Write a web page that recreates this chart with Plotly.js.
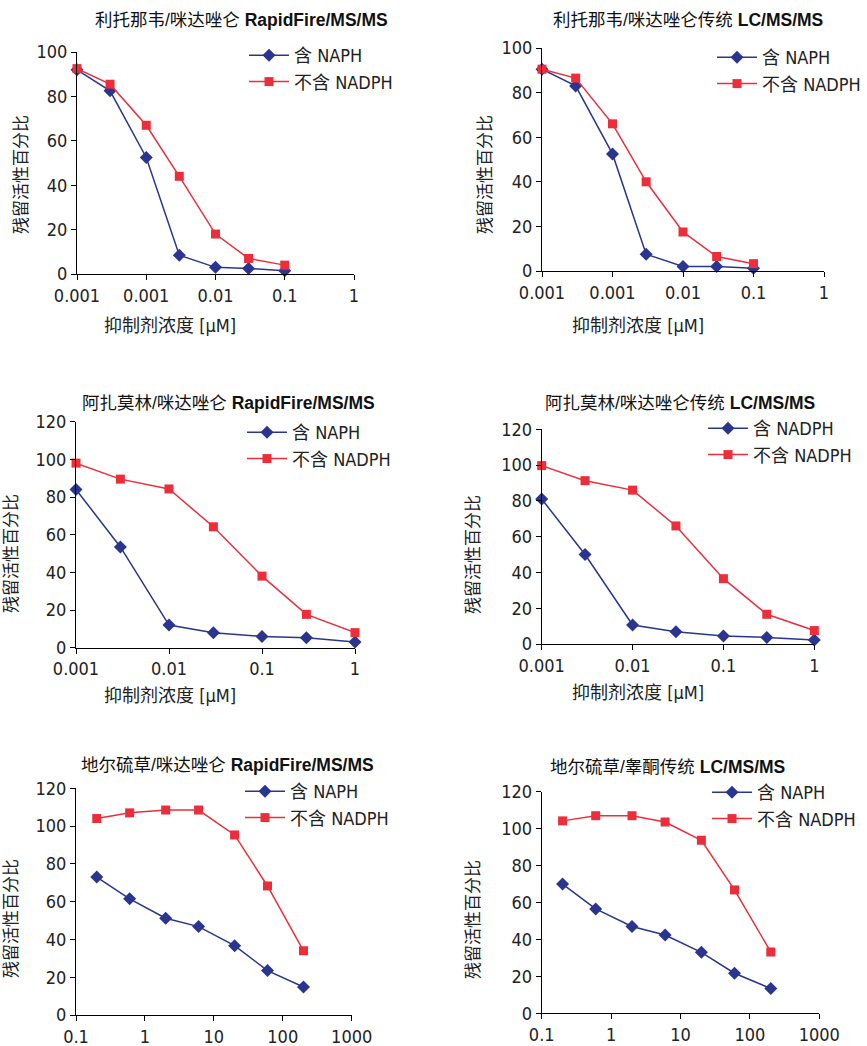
<!DOCTYPE html>
<html>
<head>
<meta charset="utf-8">
<script src="https://cdn.plot.ly/plotly-3.0.1.min.js"></script>
<style>html,body{margin:0;padding:0;background:#fff;}#chart{width:867px;height:1046px;}</style>
</head>
<body>
<div id="chart"></div>
<script>
// ---------- data ----------
const panelTitles = [
  '利托那韦/咪达唑仑 <b>RapidFire/MS/MS</b>',
  '利托那韦/咪达唑仑传统 <b>LC/MS/MS</b>',
  '阿扎莫林/咪达唑仑 <b>RapidFire/MS/MS</b>',
  '阿扎莫林/咪达唑仑传统 <b>LC/MS/MS</b>',
  '地尔硫草/咪达唑仑 <b>RapidFire/MS/MS</b>',
  '地尔硫草/睾酮传统 <b>LC/MS/MS</b>'
];
const yTitle = '残留活性百分比';
const xTitle = '抑制剂浓度 [μM]';
const withLabels = ['含 NAPH', '含 NAPH', '含 NAPH', '含 NADPH', '含 NAPH', '含 NAPH'];
const withoutLabel = '不含 NADPH';

// concentrations (µM)
const concRitonavir = [0.0001, 0.0003, 0.001, 0.003, 0.01, 0.03, 0.1];
const concAzamulin  = [0.001, 0.003, 0.01, 0.03, 0.1, 0.3, 1];
const concDiltiazem = [0.2, 0.6, 2, 6, 20, 60, 200];

// remaining activity (%)
const ritonavirRF_with    = [92, 82.5, 52.5, 8.5, 3, 2.5, 1.5];
const ritonavirRF_without = [92.5, 85.5, 67, 44, 18, 7, 4];
const ritonavirLC_with    = [90.5, 83, 52.5, 7.5, 2, 2, 1.2];
const ritonavirLC_without = [90.5, 86.5, 66, 40, 17.5, 6.5, 3.3];
const azamulinRF_with     = [84, 53.5, 12, 8, 6, 5.3, 3];
const azamulinRF_without  = [98, 89.5, 84.3, 64.2, 38, 17.7, 8];
const azamulinLC_with     = [81, 50, 10.6, 6.9, 4.5, 3.7, 2.2];
const azamulinLC_without  = [99.7, 91.3, 86, 66, 36.5, 16.6, 7.5];
const diltiazemRF_with    = [73, 61.5, 51.2, 46.8, 36.7, 23.5, 14.8];
const diltiazemRF_without = [104, 107, 108.5, 108.5, 95.3, 68.3, 34];
const diltiazemLC_with    = [70, 56.5, 47, 42.4, 33, 21.7, 13.4];
const diltiazemLC_without = [104.2, 107, 107, 103.6, 93.7, 66.8, 33.2];

// x tick labels
const tickValsRitonavir = [0.0001, 0.001, 0.01, 0.1, 1];
const tickTextRitonavir = ['0.001', '0.001', '0.01', '0.1', '1'];
const tickValsAzamulin  = [0.001, 0.01, 0.1, 1];
const tickTextAzamulin  = ['0.001', '0.01', '0.1', '1'];
const tickValsDiltiazem = [0.1, 1, 10, 100, 1000];
const tickTextDiltiazem = ['0.1', '1', '10', '100', '1000'];

// ---------- layout geometry (pixels) ----------
const W = 867, H = 1046;
const BLUE = '#2A3590', RED = '#EC2E3B';
const FONT = '"Liberation Sans Narrow", "DejaVu Sans Condensed", "Noto Sans CJK SC", sans-serif';
const TXT = '#222222';

const panels = [
  {x: concRitonavir, w: ritonavirRF_with, wo: ritonavirRF_without, tv: tickValsRitonavir, tt: tickTextRitonavir, xr: [-4, 0], ymax: 100,
   px: [77, 354], py: [52, 274], title: [241, 20], yt: [21, 175], xt: [170, 325], leg: [244, 37]},
  {x: concRitonavir, w: ritonavirLC_with, wo: ritonavirLC_without, tv: tickValsRitonavir, tt: tickTextRitonavir, xr: [-4, 0], ymax: 100,
   px: [542, 824], py: [48, 271], title: [688, 20], yt: [485, 175], xt: [638, 325], leg: [712, 39]},
  {x: concAzamulin, w: azamulinRF_with, wo: azamulinRF_without, tv: tickValsAzamulin, tt: tickTextAzamulin, xr: [-3, 0], ymax: 120,
   px: [76, 355], py: [421.7, 647.7], title: [229, 403], yt: [11, 554], xt: [170, 695], leg: [242, 414]},
  {x: concAzamulin, w: azamulinLC_with, wo: azamulinLC_without, tv: tickValsAzamulin, tt: tickTextAzamulin, xr: [-3, 0], ymax: 120,
   px: [541.7, 814.3], py: [429.3, 644], title: [680, 403], yt: [473, 555], xt: [638, 692], leg: [703, 410]},
  {x: concDiltiazem, w: diltiazemRF_with, wo: diltiazemRF_without, tv: tickValsDiltiazem, tt: tickTextDiltiazem, xr: [-1, 3], ymax: 120,
   px: [76, 351.7], py: [788.3, 1015], title: [228, 765], yt: [11, 919], xt: null, leg: [240, 773]},
  {x: concDiltiazem, w: diltiazemLC_with, wo: diltiazemLC_without, tv: tickValsDiltiazem, tt: tickTextDiltiazem, xr: [-1, 3], ymax: 120,
   px: [541.7, 819.3], py: [791.7, 1013.3], title: [667, 767], yt: [473, 920], xt: null, leg: [707, 774]}
];

const fx = p => p / W;
const fy = p => 1 - p / H;

const traces = [];
const layout = {
  width: W, height: H,
  margin: {l: 0, r: 0, t: 0, b: 0},
  paper_bgcolor: '#ffffff', plot_bgcolor: '#ffffff',
  font: {family: FONT, size: 18, color: TXT},
  showlegend: true,
  annotations: []
};

panels.forEach((p, i) => {
  const n = i + 1;
  const xa = 'xaxis' + (n === 1 ? '' : n), ya = 'yaxis' + (n === 1 ? '' : n);
  const xr = 'x' + (n === 1 ? '' : n), yr = 'y' + (n === 1 ? '' : n);
  const lg = 'legend' + (n === 1 ? '' : n);

  traces.push({
    x: p.x, y: p.w, xaxis: xr, yaxis: yr, type: 'scatter', mode: 'lines+markers',
    name: withLabels[i], legend: lg, cliponaxis: false,
    line: {color: BLUE, width: 1.5},
    marker: {symbol: 'diamond', size: 10, color: BLUE}
  });
  traces.push({
    x: p.x, y: p.wo, xaxis: xr, yaxis: yr, type: 'scatter', mode: 'lines+markers',
    name: withoutLabel, legend: lg, cliponaxis: false,
    line: {color: RED, width: 1.5},
    marker: {symbol: 'square', size: 9, color: RED}
  });

  layout[xa] = {
    type: 'log', range: p.xr, domain: [fx(p.px[0]), fx(p.px[1])], anchor: yr,
    tickmode: 'array', tickvals: p.tv, ticktext: p.tt,
    showgrid: false, zeroline: false, showline: true, linecolor: '#000', linewidth: 1,
    ticks: 'outside', ticklen: 5, tickcolor: '#000', tickfont: {size: 18, color: TXT, family: FONT}
  };
  layout[ya] = {
    range: [0, p.ymax], dtick: 20, domain: [fy(p.py[1]), fy(p.py[0])], anchor: xr,
    showgrid: false, zeroline: false, showline: true, linecolor: '#000', linewidth: 1,
    ticks: 'outside', ticklen: 5, tickcolor: '#000', tickfont: {size: 18, color: TXT, family: FONT}
  };
  layout[lg] = {
    x: fx(p.leg[0]), y: fy(p.leg[1]), xanchor: 'left', yanchor: 'top',
    bgcolor: 'rgba(0,0,0,0)', borderwidth: 0, font: {size: 18, color: TXT, family: FONT},
    tracegroupgap: 0, itemwidth: 40
  };

  layout.annotations.push({
    text: panelTitles[i], xref: 'paper', yref: 'paper', x: fx(p.title[0]), y: fy(p.title[1]),
    xanchor: 'center', yanchor: 'middle', showarrow: false,
    font: {size: 17.5, color: '#111', family: '"Liberation Sans", "Noto Sans CJK SC", sans-serif'}
  });
  layout.annotations.push({
    text: yTitle, xref: 'paper', yref: 'paper', x: fx(p.yt[0]), y: fy(p.yt[1]),
    xanchor: 'center', yanchor: 'middle', showarrow: false, textangle: -90,
    font: {size: 17, color: TXT, family: FONT}
  });
  if (p.xt) {
    layout.annotations.push({
      text: xTitle, xref: 'paper', yref: 'paper', x: fx(p.xt[0]), y: fy(p.xt[1]),
      xanchor: 'center', yanchor: 'middle', showarrow: false,
      font: {size: 18, color: TXT, family: FONT}
    });
  }
});

Plotly.newPlot('chart', traces, layout, {staticPlot: true});
</script>
</body>
</html>
